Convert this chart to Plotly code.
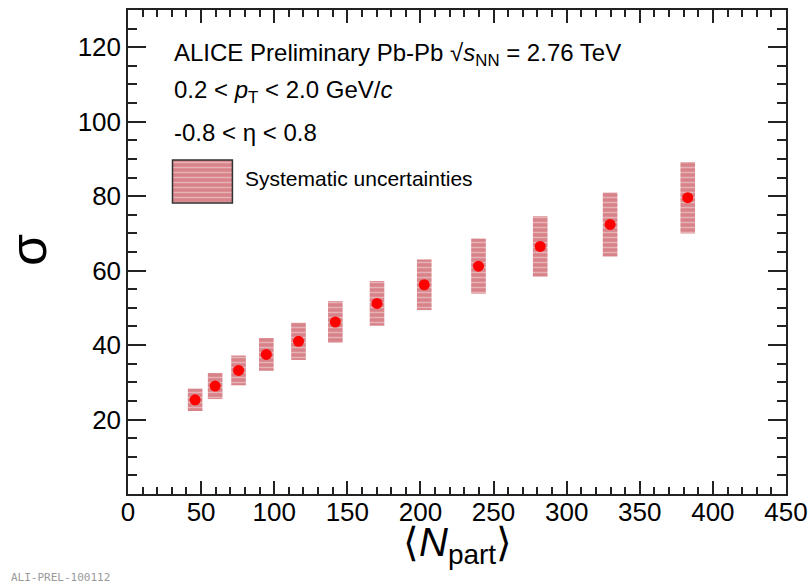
import plotly.graph_objects as go

# ---- data ----
npart = [45.9, 59.6, 75.6, 94.6, 116.6, 141.8, 170.3, 202.6, 239.7, 281.9, 329.7, 382.8]
sigma = [25.3, 29.0, 33.2, 37.5, 41.0, 46.2, 51.2, 56.2, 61.2, 66.5, 72.4, 79.6]
syst = [3.0, 3.5, 4.0, 4.4, 5.0, 5.6, 6.0, 6.8, 7.4, 8.1, 8.6, 9.6]
box_halfwidth = 5.0

x_ticks = [0, 50, 100, 150, 200, 250, 300, 350, 400, 450]
y_ticks = [20, 40, 60, 80, 100, 120]

FONT = "Liberation Sans, Arial, Helvetica, sans-serif"
BOX_COLOR = "rgba(205,100,108,0.80)"
PATTERN = dict(shape="-", fgcolor="rgba(255,255,255,0.75)", size=5, solidity=0.3)
AXC = "#222222"

fig = go.Figure()

# systematic uncertainty boxes
fig.add_trace(go.Bar(
    x=npart,
    y=[2 * e for e in syst],
    base=[s - e for s, e in zip(sigma, syst)],
    width=[2 * box_halfwidth] * len(npart),
    marker=dict(color=BOX_COLOR, pattern=PATTERN),
    marker_line_width=0,
    showlegend=False, hoverinfo="skip",
))

# data points
fig.add_trace(go.Scatter(
    x=npart, y=sigma, mode="markers",
    marker=dict(color="#ff0000", size=11, line=dict(width=0)),
    showlegend=False,
))

# legend key on an auxiliary [0,1] axis pair covering the plot domain
key_x0, key_x1, key_y0, key_y1 = 0.0676, 0.1587, 0.601, 0.690
fig.add_trace(go.Bar(
    x=[(key_x0 + key_x1) / 2], y=[key_y1 - key_y0], base=[key_y0],
    width=[key_x1 - key_x0], xaxis="x2", yaxis="y2",
    marker=dict(color=BOX_COLOR, pattern=PATTERN),
    marker_line_width=0,
    showlegend=False, hoverinfo="skip",
))
fig.add_shape(type="rect", xref="x domain", yref="y domain",
              x0=key_x0, x1=key_x1, y0=key_y0, y1=key_y1,
              line=dict(color="#333333", width=1.5))

axis_common = dict(
    showline=True, linecolor=AXC, linewidth=1.5, mirror="ticks",
    ticks="inside", tickcolor=AXC, tickwidth=1.5,
    showgrid=False, zeroline=False,
    tickfont=dict(family=FONT, size=26, color="#000000"),
)

fig.update_layout(
    width=811, height=585,
    margin=dict(l=127.5, r=25, t=10, b=91, autoexpand=False),
    paper_bgcolor="white", plot_bgcolor="white",
    barmode="overlay",
    xaxis=dict(range=[0, 450], tickvals=x_ticks, ticklen=13, ticklabelstandoff=-6,
               minor=dict(dtick=10, ticklen=7, ticks="inside", tickcolor=AXC, tickwidth=1.5),
               **axis_common),
    yaxis=dict(range=[0, 130], tickvals=y_ticks, ticklen=18,
               minor=dict(dtick=5, ticklen=9, ticks="inside", tickcolor=AXC, tickwidth=1.5),
               **axis_common),
    xaxis2=dict(overlaying="x", range=[0, 1], showticklabels=False, ticks="", showline=False, showgrid=False, zeroline=False),
    yaxis2=dict(overlaying="y", range=[0, 1], showticklabels=False, ticks="", showline=False, showgrid=False, zeroline=False),
    showlegend=False,
)

ann = [
    dict(text="ALICE Preliminary Pb-Pb √<i>s</i><sub>NN</sub> = 2.76 TeV", x=0.0676, y=0.909, size=24),
    dict(text="0.2 &lt; <i>p</i><sub>T</sub> &lt; 2.0 GeV/<i>c</i>", x=0.0676, y=0.831, size=24),
    dict(text="-0.8 &lt; η &lt; 0.8", x=0.0676, y=0.746, size=24),
    dict(text="Systematic uncertainties", x=0.1754, y=0.651, size=21),
]
for a in ann:
    fig.add_annotation(text=a["text"], x=a["x"], y=a["y"], xref="x domain", yref="y domain",
                       xanchor="left", yanchor="middle", showarrow=False,
                       font=dict(family=FONT, size=a["size"], color="#000000"))

# axis titles
fig.add_annotation(text="⟨<i>N</i><sub>part</sub>⟩", x=0.5, y=-0.105, xref="x domain", yref="y domain",
                   xanchor="center", yanchor="middle", showarrow=False,
                   font=dict(family=FONT, size=40, color="#000000"))
fig.add_annotation(text="σ", x=-0.152, y=0.504, xref="x domain", yref="y domain",
                   xanchor="center", yanchor="middle", showarrow=False, textangle=-90,
                   font=dict(family=FONT, size=52, color="#000000"))
fig.add_annotation(text="ALI-PREL-100112", x=-0.1815, y=-0.1715, xref="x domain", yref="y domain",
                   xanchor="left", yanchor="middle", showarrow=False,
                   font=dict(family="DejaVu Sans Mono, monospace", size=11, color="#999999"))

fig.write_html("out.html")
